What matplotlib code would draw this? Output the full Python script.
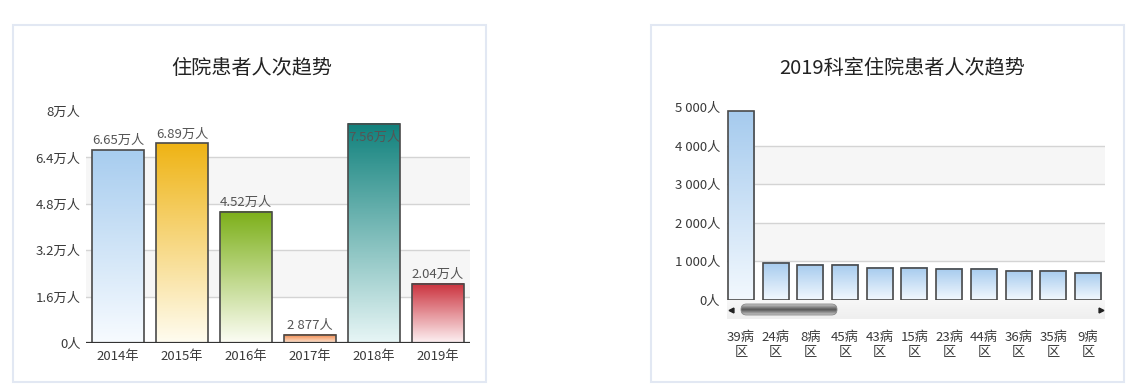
import numpy as np
import matplotlib.pyplot as plt
from matplotlib.patches import Rectangle, FancyBboxPatch
from matplotlib.colors import LinearSegmentedColormap

plt.rcParams['font.family'] = ['Noto Sans CJK SC', 'DejaVu Sans']

# left chart data (people)
years = ['2014年', '2015年', '2016年', '2017年', '2018年', '2019年']
year_counts = [66500, 68900, 45200, 2877, 75600, 20400]
year_colors = [('#a8cdef', '#f7fbff'), ('#efb416', '#fffcef'), ('#7db01a', '#fcfdf4'),
               ('#f08444', '#fde6d6'), ('#12827d', '#e6f5f5'), ('#cb323d', '#fdf0f2')]
left_ticks = [0, 16000, 32000, 48000, 64000, 80000]

# right chart data
wards = ['39病\n区', '24病\n区', '8病\n区', '45病\n区', '43病\n区', '15病\n区',
         '23病\n区', '44病\n区', '36病\n区', '35病\n区', '9病\n区']
ward_counts = [4890, 960, 910, 910, 830, 830, 810, 810, 760, 760, 710]
right_ticks = [0, 1000, 2000, 3000, 4000, 5000]

W, H = 1126, 389
fig = plt.figure(figsize=(W / 100, H / 100), dpi=100)


def fx(px):
    return px / W


def fy(py):
    return 1 - py / H


def wan(v):
    if v == 0:
        return '0人'
    s = f'{v / 10000:.2f}'.rstrip('0').rstrip('.')
    return s + '万人'


def grouped(v):
    return f'{v:,}'.replace(',', ' ') + '人'


def gradient_bars(ax, bars, colors):
    grad = np.linspace(1, 0, 64).reshape(-1, 1)
    for b, (top, bottom) in zip(bars, colors):
        cmap = LinearSegmentedColormap.from_list('g', [bottom, top])
        x0, w, h = b.get_x(), b.get_width(), b.get_height()
        ax.imshow(grad, cmap=cmap, extent=[x0, x0 + w, 0, h], aspect='auto',
                  zorder=2, interpolation='bilinear')


def style_axis(ax, ticks, ymax, fmt, pad):
    for s in ax.spines.values():
        s.set_visible(False)
    ax.set_ylim(0, ymax)
    ax.set_yticks(ticks)
    ax.set_yticklabels([fmt(t) for t in ticks], fontsize=9.5, color='#3a3a3a')
    ax.tick_params(axis='both', length=0)
    ax.tick_params(axis='y', pad=pad)
    for i in range(1, len(ticks) - 1):
        ax.axhline(ticks[i], color='#d4d4d4', lw=1, zorder=1)
        if i % 2 == 1:
            ax.axhspan(ticks[i], ticks[i + 1], color='#f6f6f6', lw=0, zorder=0)


# panel frames
for x0, x1 in [(13, 486), (651, 1124)]:
    fig.patches.append(Rectangle((fx(x0), fy(382)), fx(x1 - x0), (382 - 25) / H,
                                 transform=fig.transFigure, fill=False,
                                 edgecolor='#e2e8f3', lw=1.5))

fig.text(fx(252), fy(68), '住院患者人次趋势', ha='center', va='center', fontsize=14.5, color='#222')
fig.text(fx(902), fy(68), '2019科室住院患者人次趋势', ha='center', va='center', fontsize=14.5, color='#222')

# ---- left chart
ax1 = fig.add_axes([fx(86), fy(343), fx(384), 232 / H])
xs = np.arange(len(years))
bars = ax1.bar(xs, year_counts, width=0.8, facecolor='none', edgecolor='#4a4a4a', lw=1.2, zorder=3)
gradient_bars(ax1, bars, year_colors)
style_axis(ax1, left_ticks, 80000, wan, 4)
ax1.axhline(0, color='#333', lw=1.6, zorder=4)
ax1.set_xlim(-0.5, len(years) - 0.5)
ax1.set_xticks(xs)
ax1.set_xticklabels(years, fontsize=9.5, color='#3a3a3a')
ax1.tick_params(axis='x', pad=5)
for x, v in zip(xs, year_counts):
    label = wan(v) if v >= 10000 else grouped(v)
    if v > 0.93 * 80000:
        ax1.annotate(label, (x, v), xytext=(0, -5), textcoords='offset points',
                     ha='center', va='top', fontsize=9.5, color='#555', zorder=5)
    else:
        ax1.annotate(label, (x, v), xytext=(0, 2), textcoords='offset points',
                     ha='center', va='bottom', fontsize=9.5, color='#555', zorder=5)

# ---- right chart
ax2 = fig.add_axes([fx(727), fy(300), fx(378), 193 / H])
xs2 = np.arange(len(wards))
bars2 = ax2.bar(xs2, ward_counts, width=0.75, facecolor='none', edgecolor='#4a4a4a', lw=1.2, zorder=3)
gradient_bars(ax2, bars2, [('#a6cbee', '#f2f8fe')] * len(wards))
style_axis(ax2, right_ticks, 5000, grouped, 5)
ax2.set_xlim(-0.40, 10.49)
ax2.set_xticks(xs2)
ax2.set_xticklabels(wards, fontsize=9.5, color='#3a3a3a', linespacing=1.25)
ax2.tick_params(axis='x', pad=22)

# scrollbar under the right chart
sb = fig.add_axes([fx(727), fy(319), fx(378), 19 / H])
sb.set_xlim(0, 378)
sb.set_ylim(0, 19)
sb.axis('off')
track = np.linspace(0, 1, 32).reshape(-1, 1)
sb.imshow(track, cmap=LinearSegmentedColormap.from_list('t', ['#f7f7f7', '#efefef']),
          extent=[0, 378, 0, 19], aspect='auto', zorder=0)
thumb = FancyBboxPatch((14, 4), 96, 11, boxstyle='round,pad=0,rounding_size=5.5',
                       facecolor='none', edgecolor='#888', lw=0.6, zorder=3)
sb.add_patch(thumb)
shade = np.abs(np.linspace(-1, 1, 32)).reshape(-1, 1)
im = sb.imshow(shade, cmap=LinearSegmentedColormap.from_list('s', ['#5a5a5a', '#c8c8c8']),
               extent=[14, 110, 4, 15], aspect='auto', zorder=2)
im.set_clip_path(thumb)
sb.plot([4], [9.5], marker='<', ms=3.5, color='#222')
sb.plot([374], [9.5], marker='>', ms=3.5, color='#222')

fig.savefig('out.png', dpi=100)
